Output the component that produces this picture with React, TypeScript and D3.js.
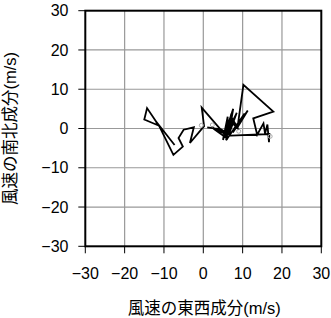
import React from "react";
import * as d3 from "d3";

const uWind = [-7.3, -12.0, -11.7, -15.0, -14.3, -11.2, -7.6, -5.2, -6.3, -5.0, -2.4, -3.4, 0.2,
  -0.4, 5.2, 2.0, 6.0, 6.2, 5.0, 7.6, 6.5, 8.5, 5.5, 7.0, 9.0, 7.0, 5.8, 10.5, 7.5, 11.3, 8.7,
  10.2, 17.8, 12.7, 13.7, 15.3, 15.7, 16.3, 16.7, 16.8, 7.0, 4.5, 1.0];
const vWind = [-4.2, 1.8, 0.9, 2.3, 5.2, 0.6, -6.7, -4.6, -2.4, -0.3, 0.3, -3.7, 0.6,
  5.3, -1.2, 0.4, -2.5, 3.0, -2.9, 5.0, -1.5, 4.0, -2.2, 1.8, -0.3, 3.2, -3.0, 3.8, -1.0, 4.6, 0.3,
  11.1, 4.3, 2.6, -1.6, 1.3, -1.3, 1.0, -3.5, -1.4, -1.8, -0.2, 0.3];
const markU = [-0.5, 2.3, 9.0, 17.0];
const markV = [0.8, 0.9, -0.7, -2.0];
const tickValues = [-30, -20, -10, 0, 10, 20, 30];
const tickLabels = ["\u221230", "\u221220", "\u221210", "0", "10", "20", "30"];
const xTitle = "風速の東西成分(m/s)";
const yTitle = "風速の南北成分(m/s)";

export default function App() {
  const W = 331, H = 318;
  const left = 85.3, right = 321.3, top = 10.7, bottom = 246.3;
  const x = d3.scaleLinear().domain([-30, 30]).range([left, right]);
  const y = d3.scaleLinear().domain([-30, 30]).range([bottom, top]);
  const pts: [number, number][] = uWind.map((u, i) => [u, vWind[i]]);
  const line = d3.line<[number, number]>().x(d => x(d[0])).y(d => y(d[1]));
  const font = "'Liberation Sans', Arial, 'Noto Sans CJK JP', sans-serif";
  return (
    <svg width={W} height={H} style={{ position: "fixed", left: 0, top: 0, background: "#fff" }}>
      <rect x={0} y={0} width={W} height={H} fill="#fff" />
      {tickValues.slice(1, -1).map(t => (
        <g key={"g" + t}>
          <line x1={x(t)} x2={x(t)} y1={top} y2={bottom} stroke="#999" strokeWidth={1.2} />
          <line x1={left} x2={right} y1={y(t)} y2={y(t)} stroke="#999" strokeWidth={1.2} />
        </g>
      ))}
      {tickValues.map((t, i) => (
        <g key={"t" + t}>
          <line x1={x(t)} x2={x(t)} y1={bottom} y2={bottom + 7} stroke="#000" strokeWidth={1} />
          <line x1={left - 7} x2={left} y1={y(t)} y2={y(t)} stroke="#000" strokeWidth={1} />
          <text x={x(t)} y={279} textAnchor="middle" fontFamily={font} fontSize={16}>{tickLabels[i]}</text>
          <text x={68.5} y={y(t) + 5.7} textAnchor="end" fontFamily={font} fontSize={16}>{tickLabels[i]}</text>
        </g>
      ))}
      <path d={line(pts) || ""} fill="none" stroke="#000" strokeWidth={1.8} strokeLinejoin="miter" />
      {markU.map((u, i) => (
        <circle key={"m" + i} cx={x(u)} cy={y(markV[i])} r={2} fill="none" stroke="#aaa" strokeWidth={1} />
      ))}
      <rect x={left} y={top} width={right - left} height={bottom - top} fill="none" stroke="#000" strokeWidth={2} />
      <text x={(left + right) / 2 + 1} y={314} textAnchor="middle" fontFamily={font} fontSize={16.5}>{xTitle}</text>
      <text transform={`translate(16,${(top + bottom) / 2}) rotate(-90)`} textAnchor="middle" fontFamily={font} fontSize={16.5}>{yTitle}</text>
    </svg>
  );
}
